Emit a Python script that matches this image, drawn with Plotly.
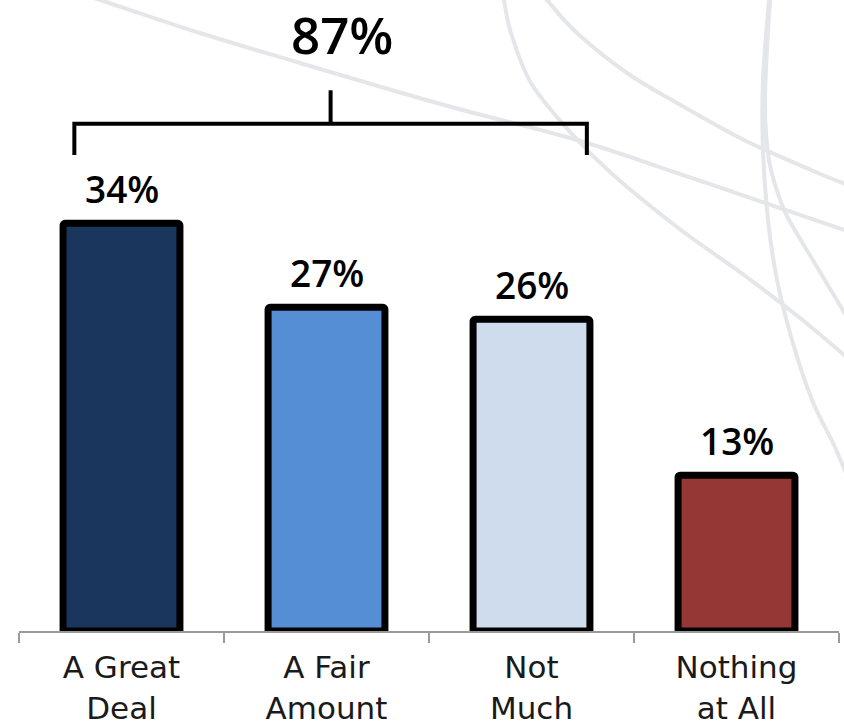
import plotly.graph_objects as go

# Survey responses
categories = ["A Great Deal", "A Fair Amount", "Not Much", "Nothing at All"]
tick_labels = ["A Great<br>Deal", "A Fair<br>Amount", "Not<br>Much", "Nothing<br>at All"]
values = [34, 27, 26, 13]
bar_colors = ["#1b365d", "#558ed5", "#cfdcee", "#953735"]

# Group bracketed above the first three bars
group_idx = [0, 1, 2]
group_total = sum(values[i] for i in group_idx)

W, H = 844, 725
ML, MR, MT, MB = 19, 5, 0, 94
PLOT_W = W - ML - MR
PLOT_H = H - MT - MB
Y_MAX = 52.63


def to_paper(x, y):
    return (x - ML) / PLOT_W, (PLOT_H + MT - y) / PLOT_H


def smooth_path(pts):
    """Catmull-Rom spline through pixel points, as an SVG path in paper units."""
    p = [to_paper(x, y) for x, y in pts]
    d = f"M {p[0][0]:.4f},{p[0][1]:.4f}"
    n = len(p)
    for i in range(n - 1):
        p0 = p[i - 1] if i > 0 else p[i]
        p1, p2 = p[i], p[i + 1]
        p3 = p[i + 2] if i + 2 < n else p[i + 1]
        c1 = (p1[0] + (p2[0] - p0[0]) / 6, p1[1] + (p2[1] - p0[1]) / 6)
        c2 = (p2[0] - (p3[0] - p1[0]) / 6, p2[1] - (p3[1] - p1[1]) / 6)
        d += f" C {c1[0]:.4f},{c1[1]:.4f} {c2[0]:.4f},{c2[1]:.4f} {p2[0]:.4f},{p2[1]:.4f}"
    return d


# Decorative swooshes in the background
swooshes = [
    [(60, -12), (100, 0), (200, 33), (300, 63), (444, 105), (577, 140), (677, 173), (777, 207), (850, 232)],
    [(502, -10), (504, 0), (511, 33), (531, 83), (571, 133), (611, 173), (677, 227), (744, 275), (800, 318), (850, 360)],
    [(540, -10), (547, 0), (577, 33), (627, 73), (677, 103), (744, 140), (811, 170), (850, 186)],
    [(770, -10), (769, 0), (763, 80), (763, 150), (768, 220), (777, 280), (792, 340), (812, 400), (834, 445), (848, 478)],
    [(772, -10), (770, 0), (765, 100), (769, 160), (782, 205), (796, 232), (817, 267), (850, 322)],
]

fig = go.Figure()

fig.add_trace(go.Bar(
    x=categories,
    y=values,
    marker=dict(color=bar_colors, line=dict(color="black", width=7), cornerradius=2),
    hoverinfo="skip",
))

shapes = []
for pts in swooshes:
    shapes.append(dict(
        type="path", path=smooth_path(pts), xref="paper", yref="paper",
        line=dict(color="#e4e6e9", width=4), layer="below",
    ))

# Bracket spanning the grouped bars
b_left = group_idx[0] - 0.23
b_right = group_idx[-1] + 0.27
b_mid = (b_left + b_right) / 2
b_y, b_drop, b_stem = 42.3, 39.7, 45.1
shapes.append(dict(
    type="path", xref="x", yref="y",
    path=f"M {b_left},{b_drop} L {b_left},{b_y} L {b_right},{b_y} L {b_right},{b_drop}",
    line=dict(color="black", width=4),
))
shapes.append(dict(
    type="line", xref="x", yref="y", x0=b_mid, x1=b_mid, y0=b_y, y1=b_stem,
    line=dict(color="black", width=4),
))

annotations = []
for cat, v in zip(categories, values):
    annotations.append(dict(
        x=cat, y=v, xref="x", yref="y", text=f"{v}%", showarrow=False,
        yanchor="middle", yshift=35,
        font=dict(family="Open Sans", size=37, color="black", weight=600),
    ))
annotations.append(dict(
    x=b_mid, y=to_paper(0, 34)[1], xref="x", yref="paper", text=f"{group_total}%",
    showarrow=False, yanchor="middle", xshift=11,
    font=dict(family="Open Sans", size=51, color="black", weight=600),
))

fig.update_layout(
    width=W, height=H, autosize=False,
    margin=dict(l=ML, r=MR, t=MT, b=MB, pad=0),
    paper_bgcolor="white", plot_bgcolor="rgba(0,0,0,0)",
    showlegend=False, bargap=0.43,
    shapes=shapes, annotations=annotations,
    xaxis=dict(
        tickmode="array", tickvals=categories, ticktext=tick_labels,
        tickfont=dict(family="DejaVu Sans", size=31, color="#1a1a1a"),
        showline=True, linecolor="#9a9a9a", linewidth=2,
        ticks="outside", ticklen=10, tickwidth=2, tickcolor="#9a9a9a",
        tickson="boundaries", ticklabelstandoff=8,
        showgrid=False, zeroline=False, fixedrange=True,
    ),
    yaxis=dict(visible=False, range=[0, Y_MAX], showgrid=False, zeroline=False, fixedrange=True),
)

fig.write_html("out.html", config={"displayModeBar": False})
